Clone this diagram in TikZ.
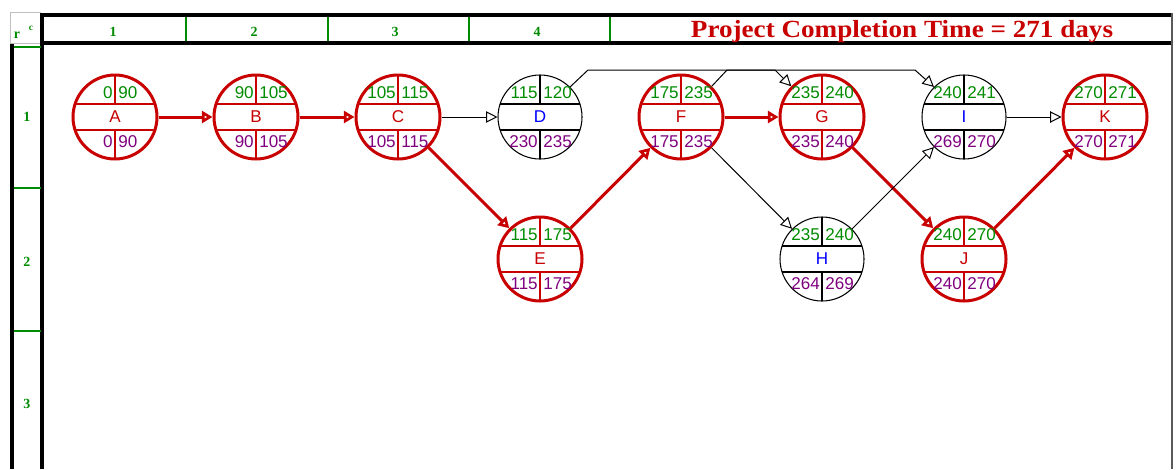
\documentclass[tikz,border=0pt]{standalone}
\usepackage{fontspec}
\setmainfont{Liberation Serif}
\setsansfont{Liberation Sans}
\usetikzlibrary{arrows.meta}

\definecolor{critred}{RGB}{200,0,0}
\definecolor{gridgreen}{RGB}{0,140,0}
\definecolor{esgreen}{RGB}{0,140,0}
\definecolor{lspurple}{RGB}{128,0,128}
\definecolor{nblue}{RGB}{0,0,255}
\definecolor{edgegrey}{RGB}{90,90,90}

\tikzset{
  critnode/.style={circle,draw=critred,line width=2.25pt,fill=white,minimum size=63pt,inner sep=0pt},
  normnode/.style={circle,draw=black,line width=0.8pt,fill=white,minimum size=63pt,inner sep=0pt},
  critnode rule/.style={draw=critred,line width=1pt},
  normnode rule/.style={draw=black,line width=0.8pt},
  critnode letter/.style={text=critred},
  normnode letter/.style={text=nblue},
  numtxt/.style={inner sep=0pt,font=\sffamily\fontsize{12.8}{14}\selectfont},
  critedge/.style={draw=critred,line width=2.25pt,-{Triangle[open,length=8pt,width=9pt]}},
  normedge/.style={draw=black,line width=0.75pt,-{Triangle[open,length=8.5pt,width=8.5pt]}},
  gridlabel/.style={text=gridgreen,inner sep=0pt,font=\bfseries\fontsize{10.5}{12}\selectfont},
  thickrule/.style={draw=black,line width=3pt},
  greenrule/.style={draw=gridgreen,line width=1.1pt},
}

% #1 name, #2 centre, #3 kind (critnode/normnode), #4 letter, #5 ES, #6 EF, #7 LS, #8 LF
\newcommand\activity[8]{%
  \node[#3] (#1) at (#2) {};
  \draw[#3 rule] ([shift={(-40,-13)}]#1.center) -- ([shift={(40,-13)}]#1.center);
  \draw[#3 rule] ([shift={(-40,13)}]#1.center) -- ([shift={(40,13)}]#1.center);
  \draw[#3 rule] ([shift={(0,-42)}]#1.center) -- ([shift={(0,-13)}]#1.center);
  \draw[#3 rule] ([shift={(0,13)}]#1.center) -- ([shift={(0,42)}]#1.center);
  \node[numtxt,#3 letter] (#1-name) at (#1.center) {#4};
  \node[numtxt,text=esgreen,anchor=east] (#1-es) at ([shift={(-2,-24)}]#1.center) {#5};
  \node[numtxt,text=esgreen,anchor=west] (#1-ef) at ([shift={(3,-24)}]#1.center) {#6};
  \node[numtxt,text=lspurple,anchor=east] (#1-ls) at ([shift={(-2,25)}]#1.center) {#7};
  \node[numtxt,text=lspurple,anchor=west] (#1-lf) at ([shift={(3,25)}]#1.center) {#8};
}

\begin{document}
\begin{tikzpicture}[x=0.75pt,y=-0.75pt]
\useasboundingbox[fill=white] (0,0) rectangle (1176,469);

% ---- grid frame ----
\draw[draw=black!25,line width=0.6pt,fill=white] (10,12) rectangle (40,43);
\node[gridlabel,anchor=base] (corner-r) at (17,38) {r};
\node[gridlabel,anchor=base,font=\bfseries\fontsize{7}{8}\selectfont] (corner-c) at (31,30) {c};

\draw[thickrule,line width=2.5pt] (41,15) -- (1172,15);
\draw[thickrule,line width=3.5pt] (41,43) -- (1172,43);
\draw[thickrule] (42,13) -- (42,469);
\draw[thickrule] (12,44) -- (12,469);
\draw[draw=edgegrey,line width=1.2pt] (1172,13) -- (1172,469);

\foreach \gx in {186,328,469,610} \draw[greenrule] (\gx,17) -- (\gx,41);
\foreach \gy in {47,188,331} \draw[greenrule] (13.5,\gy) -- (40.5,\gy);

\node[gridlabel] (col1) at (113,32) {1};
\node[gridlabel] (col2) at (254,32) {2};
\node[gridlabel] (col3) at (395,32) {3};
\node[gridlabel] (col4) at (537,32) {4};

\node[gridlabel] (row1) at (27,117) {1};
\node[gridlabel] (row2) at (27,262) {2};
\node[gridlabel] (row3) at (27,404) {3};

\node[anchor=base,inner sep=0pt,text=critred,xscale=1.1,transform shape,
      font=\bfseries\fontsize{18.5}{20}\selectfont] (title)
  at (902,37) {Project Completion Time = 271 days};

% ---- activity nodes ----
\activity{A}{115,117}{critnode}{A}{0}{90}{0}{90}
\activity{B}{256,117}{critnode}{B}{90}{105}{90}{105}
\activity{C}{398,117}{critnode}{C}{105}{115}{105}{115}
\activity{D}{540,117}{normnode}{D}{115}{120}{230}{235}
\activity{E}{540,259}{critnode}{E}{115}{175}{115}{175}
\activity{F}{681,117}{critnode}{F}{175}{235}{175}{235}
\activity{G}{822,117}{critnode}{G}{235}{240}{235}{240}
\activity{H}{822,259}{normnode}{H}{235}{240}{264}{269}
\activity{I}{964,117}{normnode}{I}{240}{241}{269}{270}
\activity{J}{964,259}{critnode}{J}{240}{270}{240}{270}
\activity{K}{1105,117}{critnode}{K}{270}{271}{270}{271}

% ---- dependencies ----
\coordinate (dg1) at (588,70);
\coordinate (dg2) at (775,70);
\coordinate (fi1) at (727,70);
\coordinate (fi2) at (915,70);

\draw[critedge] (A) -- (B);
\draw[critedge] (B) -- (C);
\draw[normedge] (C) -- (D);
\draw[critedge] (C) -- (E);
\draw[critedge] (E) -- (F);
\draw[normedge] (D.45) -- (dg1) -- (dg2) -- (G.135);
\draw[normedge] (F.45) -- (fi1) -- (fi2) -- (I.135);
\draw[critedge] (F) -- (G);
\draw[normedge] (F) -- (H);
\draw[critedge] (G) -- (J);
\draw[normedge] (H) -- (I);
\draw[normedge] (I) -- (K);
\draw[critedge] (J) -- (K);
\end{tikzpicture}
\end{document}
